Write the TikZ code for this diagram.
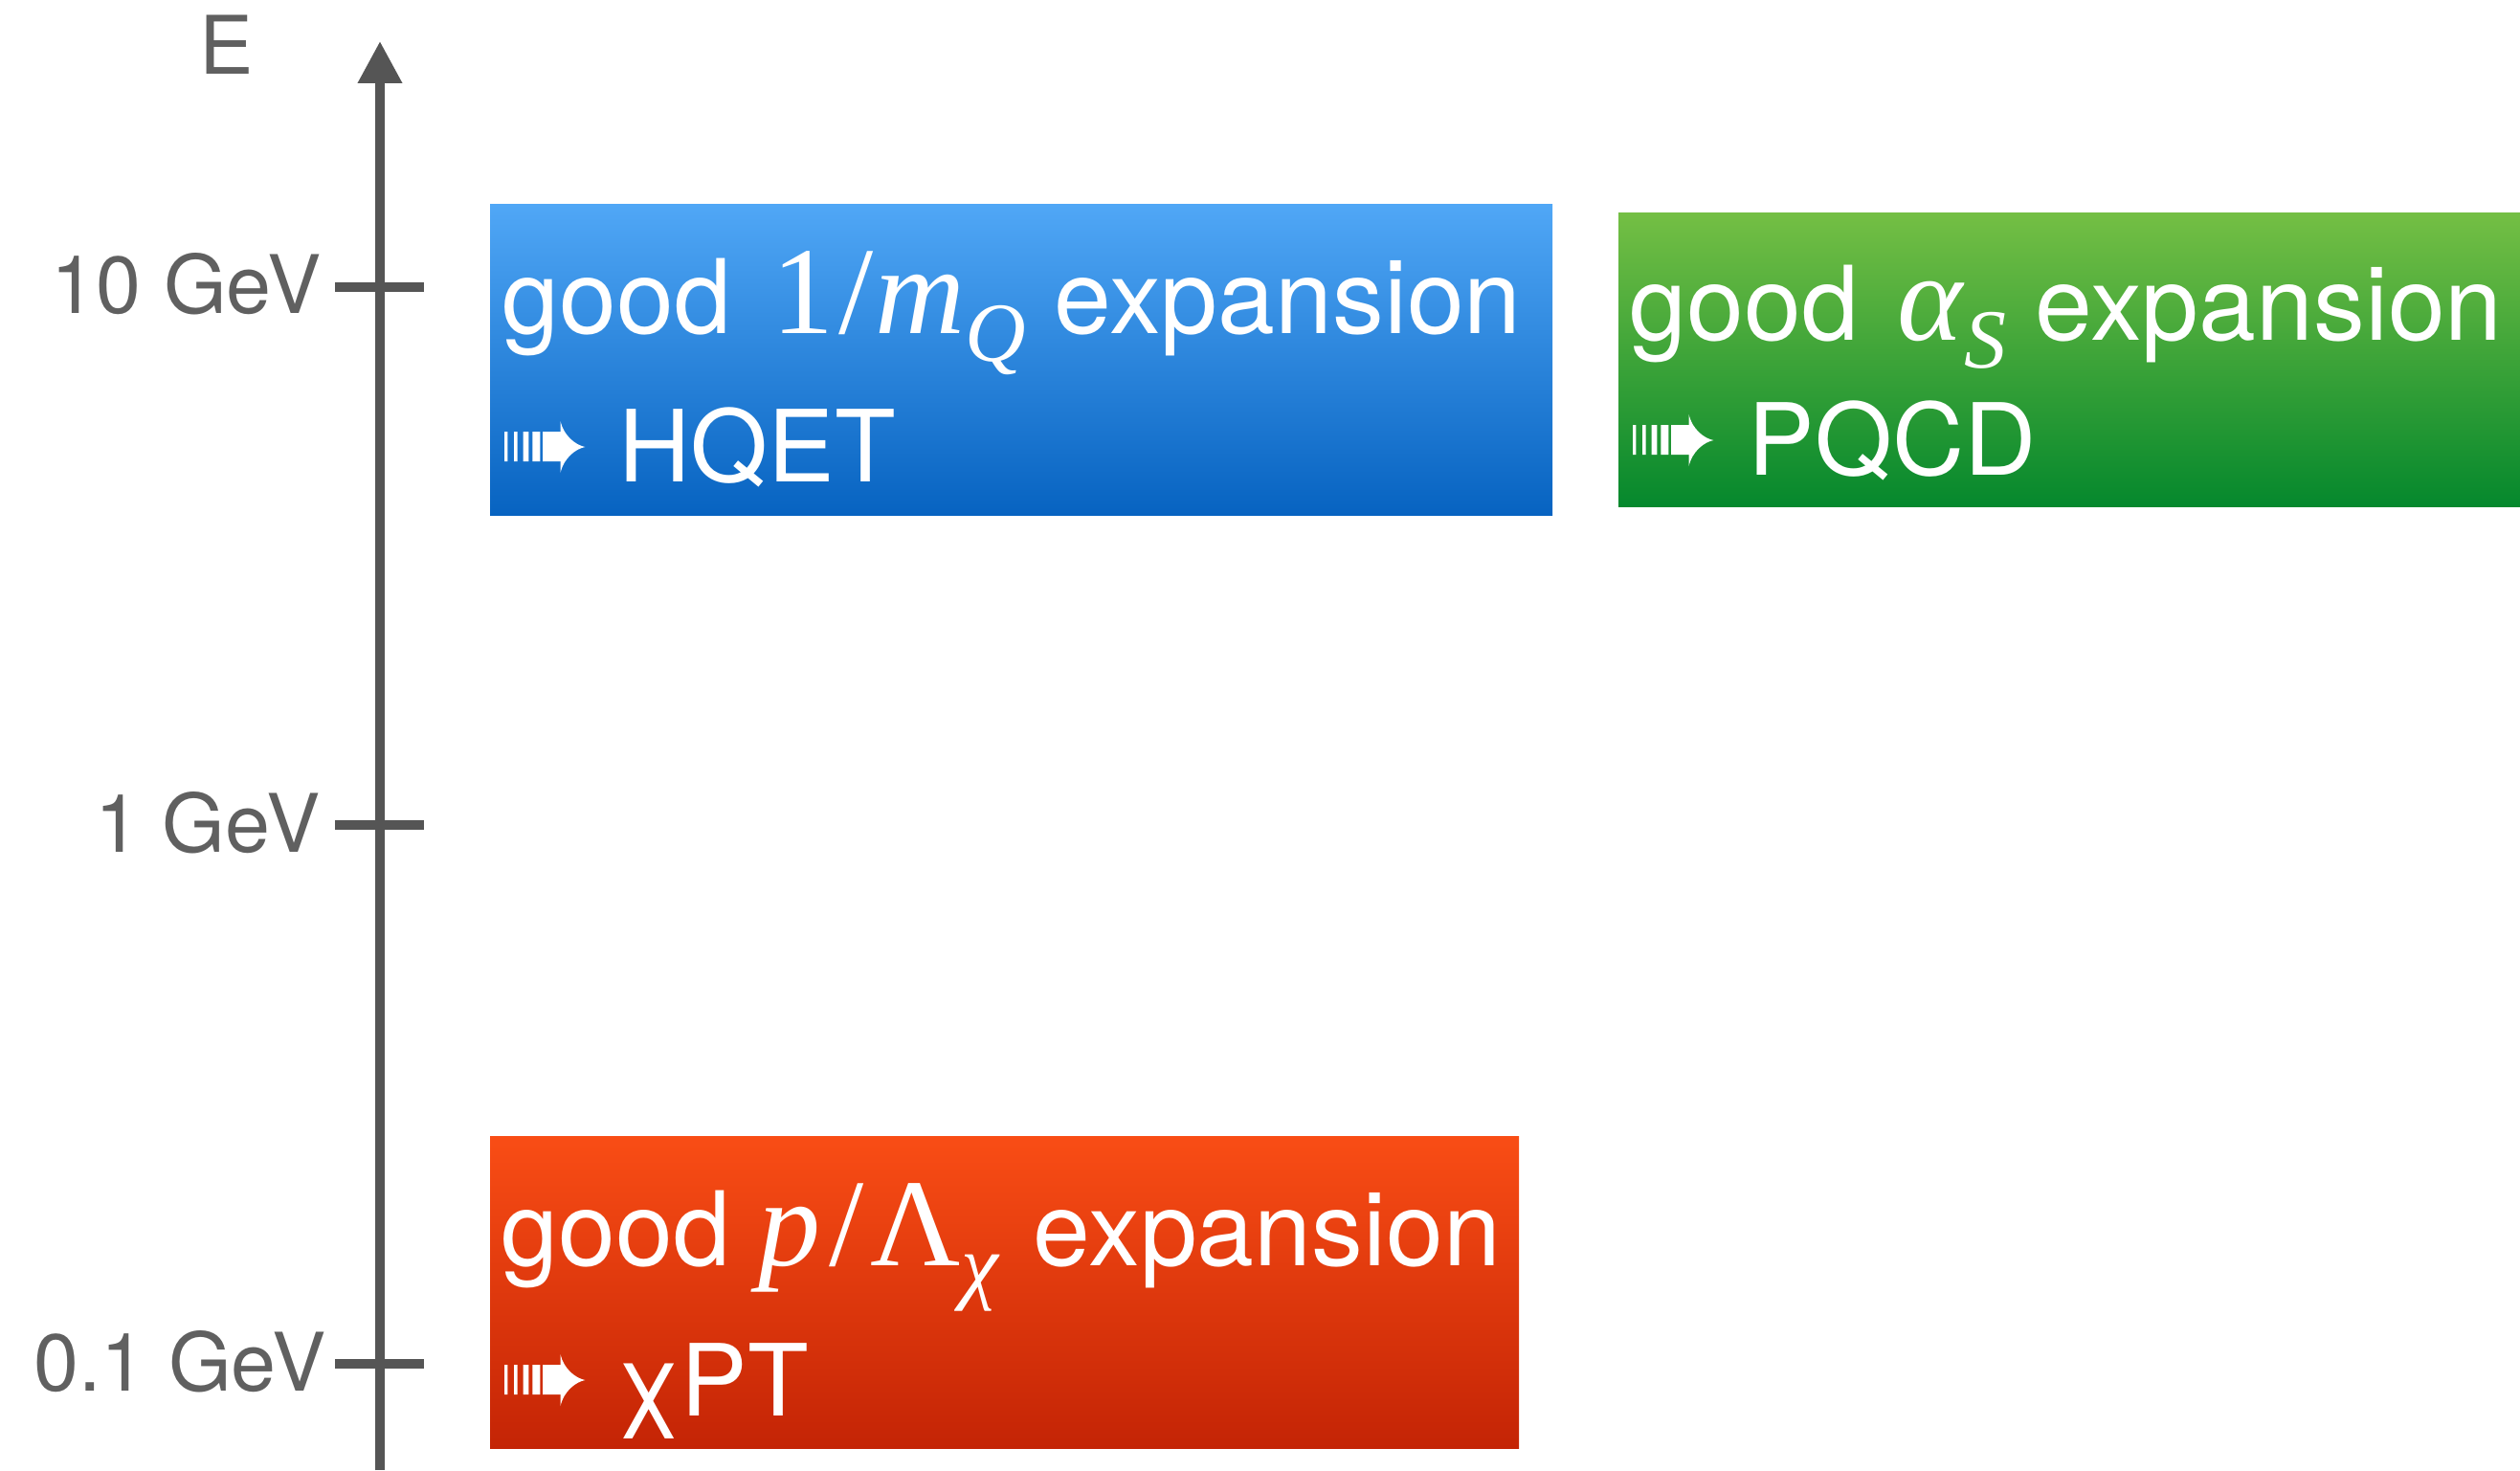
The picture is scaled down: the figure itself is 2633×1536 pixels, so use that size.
\documentclass[tikz,border=0pt]{standalone}
\usepackage{fontspec}
\setmainfont{TeX Gyre Heros}
\newfontfamily\tms{Liberation Serif}
\usetikzlibrary{arrows.meta}
\definecolor{axisgray}{HTML}{555555}
\definecolor{labelgray}{HTML}{606060}
\definecolor{bluetop}{HTML}{50A7F6}
\definecolor{bluebot}{HTML}{0763C1}
\definecolor{greentop}{HTML}{74BF44}
\definecolor{greenbot}{HTML}{05882D}
\definecolor{redtop}{HTML}{F94D15}
\definecolor{redbot}{HTML}{C42405}
\newcommand\mathpart[1]{{\tms\fontsize{37}{40}\selectfont #1}}
\newcommand\subpart[1]{\raisebox{-8.5pt}{\tms\itshape\fontsize{25}{28}\selectfont #1}}
\tikzset{
  axisline/.style={draw=axisgray, line width=2.85pt},
  tickline/.style={draw=axisgray, line width=3.1pt},
  axislabel/.style={text=labelgray, inner sep=0pt, font=\fontsize{24}{30}\selectfont},
  boxtext/.style={text=white, inner sep=0pt, anchor=base west, font=\fontsize{30.6}{36}\selectfont},
  boxtexttwo/.style={text=white, inner sep=0pt, anchor=base west, font=\fontsize{29.6}{36}\selectfont},
  arricon/.pic={
    \fill[white] (0,-16) rectangle (3.4,15) (10,-16) rectangle (13.7,15)
      (19.7,-16) rectangle (25.4,15) (29.4,-16) rectangle (37.4,15)
      (40,-16) rectangle (58.9,15);
    \fill[white] (58.5,-27) .. controls (62,-12) and (74,-2) .. (84.4,0)
      .. controls (74,2) and (62,12) .. (58.5,27) -- cycle;
  }
}
\begin{document}
\begin{tikzpicture}[x=0.01cm, y=-0.01cm]
\useasboundingbox (0,0) rectangle (2633,1536);
% boxes
\shade[top color=bluetop, bottom color=bluebot] (512,213) rectangle (1622,538);
\shade[top color=greentop, bottom color=greenbot] (1691,222) rectangle (2633,529);
\shade[top color=redtop, bottom color=redbot] (512,1187) rectangle (1587,1513);
% axis
\coordinate (axbot) at (397,1536);
\coordinate (axtop) at (397,43);
\draw[axisline, -{Triangle[width=12.5pt,length=12.5pt]}] (axbot) -- (axtop);
\coordinate (t10a) at (350,300); \coordinate (t10b) at (443,300);
\coordinate (t1a) at (350,862); \coordinate (t1b) at (443,862);
\coordinate (t01a) at (350,1425); \coordinate (t01b) at (443,1425);
\draw[tickline] (t10a) -- (t10b);
\draw[tickline] (t1a) -- (t1b);
\draw[tickline] (t01a) -- (t01b);
\node[axislabel, anchor=base west] (elabel) at (208,77) {E};
\node[axislabel, anchor=base east] (l10) at (336,327) {10 GeV};
\node[axislabel, anchor=base east] (l1) at (335,890) {1 GeV};
\node[axislabel, anchor=base east] (l01) at (341,1453) {0.1 GeV};
% blue box text
\node[boxtext] (b1) at (524,348) {good\hspace{3.5pt} \mathpart{1\kern1.5pt/\kern0.5pt\textit{m}}\subpart{Q} expansion};
\pic at (527,467) {arricon};
\node[boxtexttwo] (b2) at (646,503) {HQET};
% green box text
\node[boxtext] (g1) at (1702,355) {good\hspace{3pt} \mathpart{\textit{α}}\subpart{S} expansion};
\pic at (1706,460) {arricon};
\node[boxtexttwo] (g2) at (1826,496) {PQCD};
% red box text
\node[boxtext] (r1) at (523,1322) {good \mathpart{\textit{p}\kern2.5pt/\kern2pt Λ}\subpart{χ}\hspace{2pt} expansion};
\pic at (527,1442) {arricon};
\node[boxtexttwo] (r2) at (644,1479) {χPT};
\end{tikzpicture}
\end{document}
